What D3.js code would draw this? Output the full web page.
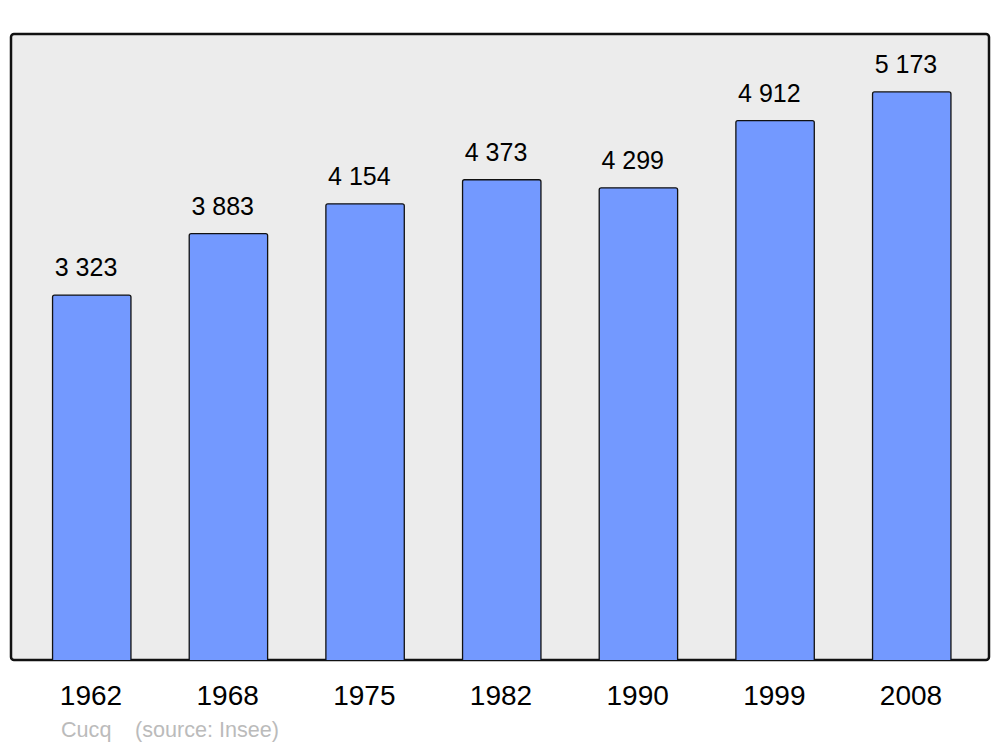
<!DOCTYPE html>
<html><head><meta charset="utf-8">
<script src="https://cdn.jsdelivr.net/npm/d3@7"></script>
<style>body{margin:0;background:#fff}svg{display:block;font-family:"Liberation Sans",Arial,sans-serif}</style>
</head><body><svg id="c" width="1000" height="747"></svg>
<script>
const years = ["1962","1968","1975","1982","1990","1999","2008"];
const population = [3323,3883,4154,4373,4299,4912,5173];
const valueLabels = ["3 323","3 883","4 154","4 373","4 299","4 912","5 173"];
const town = "Cucq";
const source = "(source: Insee)";

const svg = d3.select("#c");
const x = d3.scaleBand().domain(years).range([23.67, 980.33]).paddingInner(0.43).paddingOuter(0.215);
const y = d3.scaleLinear().domain([0, 5700]).range([660, 34]);

svg.append("rect").attr("x",11).attr("y",34).attr("width",978).attr("height",626)
  .attr("rx",3).attr("fill","#ececec").attr("stroke","#111").attr("stroke-width",2.5);

const g = svg.append("g");
years.forEach((yr,i)=>{
  const v = population[i];
  g.append("path")
   .attr("d", (()=>{const x0=x(yr)-0.5, x1=x(yr)+x.bandwidth(), t=y(v), b=y(0), r=2;
     return `M${x0},${b}V${t+r}Q${x0},${t} ${x0+r},${t}H${x1-r}Q${x1},${t} ${x1},${t+r}V${b}`;})())
   .attr("fill","#7399ff").attr("stroke","#111").attr("stroke-width",1.3);
  g.append("text").attr("x", x(yr)+x.bandwidth()/2-6).attr("y", y(v)-19)
   .attr("text-anchor","middle").attr("font-size",25).attr("fill","#000").text(valueLabels[i]);
  g.append("text").attr("x", x(yr)+x.bandwidth()/2-1).attr("y", 704.5)
   .attr("text-anchor","middle").attr("font-size",28).attr("fill","#000").text(yr);
});
svg.append("text").attr("x",61).attr("y",737).attr("font-size",21.6).attr("fill","#bbb").text(town);
svg.append("text").attr("x",135).attr("y",737).attr("font-size",21.6).attr("fill","#bbb").text(source);
</script></body></html>
